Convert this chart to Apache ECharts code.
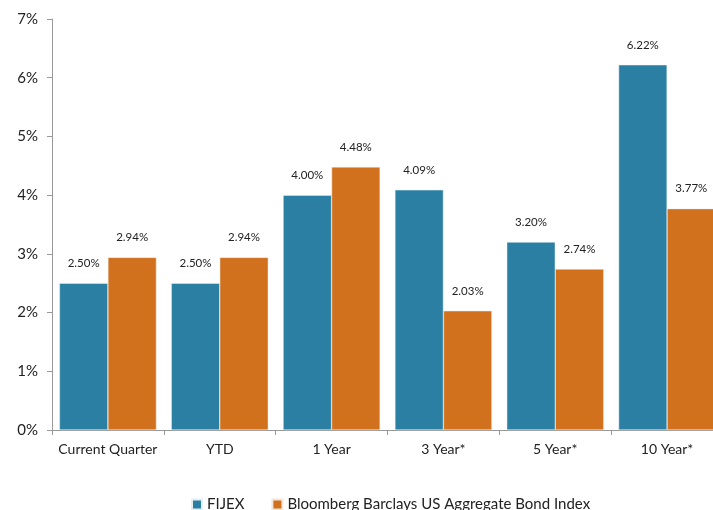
<!DOCTYPE html>
<html><head><meta charset="utf-8">
<script src="https://cdn.jsdelivr.net/npm/echarts@6/dist/echarts.min.js"></script>
<style>html,body{margin:0;padding:0;background:#fff;overflow:hidden;width:713px;height:510px}#c{width:723px;height:510px}</style>
</head><body><div id="c"></div>
<script>
var categories = ['Current Quarter', 'YTD', '1 Year', '3 Year*', '5 Year*', '10 Year*'];
var fijex = [2.50, 2.50, 4.00, 4.09, 3.20, 6.22];
var bloomberg = [2.94, 2.94, 4.48, 2.03, 2.74, 3.77];
var seriesNames = ['FIJEX', 'Bloomberg Barclays US Aggregate Bond Index'];

var font = 'Lato, "Open Sans", sans-serif';
var chart = echarts.init(document.getElementById('c'));
function lbl() {
  return { show: true, position: 'top', distance: 14, fontFamily: font, fontSize: 11.5, color: '#222',
    formatter: function (p) { return p.value.toFixed(2) + '%'; } };
}
chart.setOption({
  animation: false,
  textStyle: { fontFamily: font },
  grid: { left: 52, right: 0, top: 19, bottom: 80, containLabel: false },
  legend: {
    bottom: -7, left: 186, itemWidth: 10, itemHeight: 10, itemGap: 27,
    icon: 'rect',
    textStyle: { fontFamily: font, fontSize: 15, color: '#222' },
    data: seriesNames
  },
  xAxis: {
    type: 'category', data: categories,
    axisLine: { lineStyle: { color: '#999' } },
    axisTick: { show: true, length: 5, lineStyle: { color: '#999' } },
    axisLabel: { interval: 0, fontFamily: font, fontSize: 14, color: '#222', margin: 12 }
  },
  yAxis: {
    type: 'value', min: 0, max: 7, interval: 1,
    splitLine: { show: false },
    axisLine: { show: true, lineStyle: { color: '#999' } },
    axisTick: { show: true, length: 5, lineStyle: { color: '#999' } },
    axisLabel: { fontFamily: font, fontSize: 15, color: '#222', margin: 14, formatter: '{value}%' }
  },
  series: [
    { name: seriesNames[0], type: 'bar', data: fijex, barWidth: 48.5, barGap: '0%',
      itemStyle: { color: '#2A7FA2', borderColor: '#e6eef2', borderWidth: 0.5 }, label: lbl() },
    { name: seriesNames[1], type: 'bar', data: bloomberg, barWidth: 48.5,
      itemStyle: { color: '#D1711D', borderColor: '#f3e6da', borderWidth: 0.5 }, label: lbl() }
  ]
});
</script></body></html>
